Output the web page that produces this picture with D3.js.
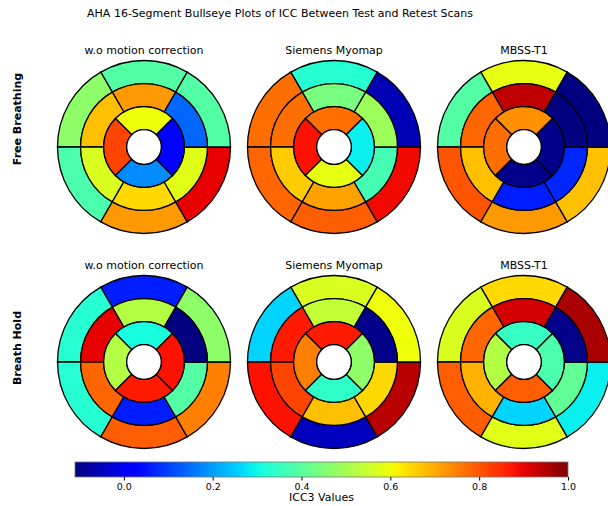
<!DOCTYPE html>
<html>
<head>
<meta charset="utf-8">
<script src="https://cdn.jsdelivr.net/npm/d3@7"></script>
<style>
  body { margin: 0; background: #fff; }
  text { font-family: "DejaVu Sans", sans-serif; fill: #000; }
</style>
</head>
<body>
<div class="chart"></div>
<script>
// ICC values per AHA segment 1-16
// basal: anterior, anteroseptal, inferoseptal, inferior, inferolateral, anterolateral
// mid: same order, apical: anterior, septal, inferior, lateral
var rowLabels = ["Free Breathing", "Breath Hold"];
var methods = ["w.o motion correction", "Siemens Myomap", "MBSS-T1"];

var fbNoMoco = [0.39, 0.47, 0.38, 0.72, 0.90, 0.39,
                0.72, 0.675, 0.57, 0.645, 0.58, 0.14,
                0.60, 0.82, 0.18, 0.03];
var fbMyomap = [0.33, 0.77, 0.78, 0.79, 0.89, -0.06,
                0.44, 0.77, 0.66, 0.71, 0.37, 0.49,
                0.77, 0.88, 0.59, 0.29];
var fbMbss = [0.59, 0.39, 0.80, 0.72, 0.675, -0.11,
              0.94, 0.78, 0.675, 0.06, 0.07, -0.11,
              0.73, 0.77, -0.10, -0.10];
var bhNoMoco = [0.06, 0.33, 0.33, 0.79, 0.75, 0.47,
                0.52, 0.90, 0.78, 0.06, 0.39, -0.11,
                0.31, 0.52, 0.87, 0.88];
var bhMyomap = [0.57, 0.26, 0.88, -0.05, 0.945, 0.60,
                0.54, 0.87, 0.82, 0.675, 0.645, -0.10,
                0.87, 0.75, 0.34, 0.47];
var bhMbss = [0.645, 0.57, 0.79, 0.58, 0.29, 0.96,
              0.92, 0.78, 0.69, 0.26, 0.41, -0.10,
              0.35, 0.52, 0.79, 0.38];

var grid = [[fbNoMoco, fbMyomap, fbMbss], [bhNoMoco, bhMyomap, bhMbss]];

var vmin = -0.11, vmax = 1.0;
var cbTicks = [0.0, 0.2, 0.4, 0.6, 0.8, 1.0];

// matplotlib jet
var jetR = d3.scaleLinear().domain([0, 0.35, 0.66, 0.89, 1]).range([0, 0, 1, 1, 0.5]).clamp(true);
var jetG = d3.scaleLinear().domain([0, 0.125, 0.375, 0.64, 0.91, 1]).range([0, 0, 1, 1, 0, 0]).clamp(true);
var jetB = d3.scaleLinear().domain([0, 0.11, 0.34, 0.65, 1]).range([0.5, 1, 1, 0, 0]).clamp(true);
function jet(t) {
    return d3.rgb(jetR(t) * 255, jetG(t) * 255, jetB(t) * 255).formatHex();
}
var norm = d3.scaleLinear().domain([vmin, vmax]).range([0, 1]).clamp(true);
function color(v) { return jet(norm(v)); }

var width = 608, height = 506;
var svg = d3.select(".chart")
    .append("svg")
    .attr("width", width)
    .attr("height", height);

svg.append("text")
    .attr("x", 280).attr("y", 17)
    .attr("text-anchor", "middle")
    .style("font-size", "11px")
    .text("AHA 16-Segment Bullseye Plots of ICC Between Test and Retest Scans");

var colX = [144, 334, 524], rowY = [147, 362];
var rowLabelY = [119, 348];
var R = 86.5;
var r = d3.scaleLinear().domain([0, 1]).range([0, R]);
var radii = [0.2, 0.4667, 0.7333, 1.0];
var deg = Math.PI / 180;

// segment layout: ring, start angle, end angle (d3 angles)
function segments(vals) {
    var out = [];
    for (var i = 0; i < 6; i++) {
        out.push({ v: vals[i], r0: radii[2], r1: radii[3], a0: (-30 - 60 * i) * deg, a1: (30 - 60 * i) * deg });
        out.push({ v: vals[6 + i], r0: radii[1], r1: radii[2], a0: (-30 - 60 * i) * deg, a1: (30 - 60 * i) * deg });
    }
    for (var j = 0; j < 4; j++) {
        out.push({ v: vals[12 + j], r0: radii[0], r1: radii[1], a0: (-45 - 90 * j) * deg, a1: (45 - 90 * j) * deg });
    }
    return out;
}

var arc = d3.arc()
    .innerRadius(function (d) { return r(d.r0); })
    .outerRadius(function (d) { return r(d.r1); })
    .startAngle(function (d) { return d.a0; })
    .endAngle(function (d) { return d.a1; });

grid.forEach(function (row, ri) {
    svg.append("text")
        .attr("transform", "translate(21," + rowLabelY[ri] + ") rotate(-90)")
        .attr("text-anchor", "middle")
        .style("font-size", "11px")
        .style("font-weight", "bold")
        .text(rowLabels[ri]);

    row.forEach(function (vals, ci) {
        var g = svg.append("g")
            .attr("transform", "translate(" + colX[ci] + "," + rowY[ri] + ")");
        g.append("text")
            .attr("x", 0).attr("y", -R - 7)
            .attr("text-anchor", "middle")
            .style("font-size", "11px")
            .text(methods[ci]);
        g.selectAll("path.seg")
            .data(segments(vals))
            .enter()
            .append("path")
            .attr("class", "seg")
            .attr("d", arc)
            .attr("fill", function (d) { return color(d.v); })
            .attr("stroke", "#000")
            .attr("stroke-width", 1.3);
        g.append("circle")
            .attr("r", r(radii[0]))
            .attr("fill", "#fff")
            .attr("stroke", "#000")
            .attr("stroke-width", 1.3);
    });
});

// colorbar
var cbX = d3.scaleLinear().domain([vmin, vmax]).range([75, 568]);
var cbY = 462, cbH = 15;
var defs = svg.append("defs");
var grad = defs.append("linearGradient").attr("id", "jetgrad");
d3.range(0, 1.0001, 0.02).forEach(function (t) {
    grad.append("stop").attr("offset", t).attr("stop-color", jet(t));
});
svg.append("rect")
    .attr("x", cbX(vmin)).attr("y", cbY)
    .attr("width", cbX(vmax) - cbX(vmin)).attr("height", cbH)
    .attr("fill", "url(#jetgrad)")
    .attr("stroke", "#777")
    .attr("stroke-width", 0.8);
var axis = svg.append("g")
    .attr("transform", "translate(0," + (cbY + cbH) + ")")
    .call(d3.axisBottom(cbX).tickValues(cbTicks).tickFormat(d3.format(".1f")).tickSize(3.5));
axis.select(".domain").remove();
axis.selectAll("text").style("font-size", "9.5px").style("font-family", "DejaVu Sans, sans-serif");
svg.append("text")
    .attr("x", cbX((vmin + vmax) / 2)).attr("y", 501)
    .attr("text-anchor", "middle")
    .style("font-size", "11px")
    .text("ICC3 Values");
</script>
</body>
</html>
